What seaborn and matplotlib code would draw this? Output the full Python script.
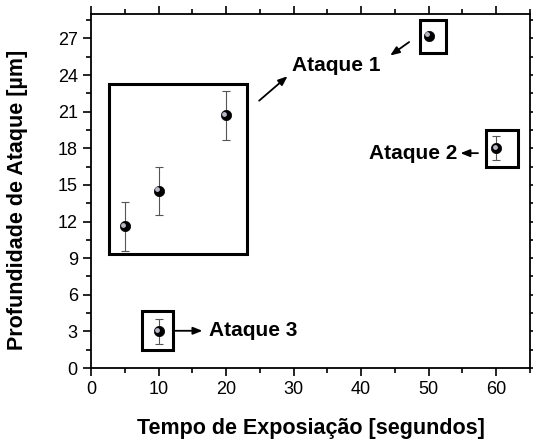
import seaborn as sns
import matplotlib.pyplot as plt
import matplotlib.transforms as mtransforms
from matplotlib.patches import Rectangle
from matplotlib import ticker
import pandas as pd

# data
tempo = [5, 10, 20, 50, 60, 10]
profundidade = [11.6, 14.5, 20.7, 27.2, 18.0, 3.0]
erro = [2.0, 2.0, 2.0, 0.0, 1.0, 1.0]

# boxes around groups: (x0, y0, x1, y1)
caixas = [(2.7, 9.35, 23.1, 23.3), (48.7, 25.8, 52.5, 28.5),
          (58.5, 16.5, 63.2, 19.5), (7.6, 1.5, 12.2, 4.65)]

rotulos = ["Ataque 1", "Ataque 2", "Ataque 3"]

df = pd.DataFrame({"tempo": tempo, "prof": profundidade, "erro": erro})

sns.set_style("ticks")
plt.rcParams['font.family'] = ['Liberation Sans', 'DejaVu Sans']
plt.rcParams['text.color'] = 'black'
plt.rcParams['axes.labelcolor'] = 'black'

fig = plt.figure(figsize=(5.33, 4.41), dpi=100)
ax = fig.add_axes([0.1707, 0.1655, 0.8237, 0.8028])

ax.errorbar(df["tempo"], df["prof"], yerr=df["erro"], fmt="none",
            ecolor="#555555", elinewidth=0.8, capsize=3, capthick=0.8, zorder=2)
sns.scatterplot(data=df, x="tempo", y="prof", ax=ax, color="black", s=55,
                edgecolor="black", linewidth=0.5, zorder=3, legend=False)
# small highlight to mimic the shaded spheres
off = mtransforms.ScaledTranslation(-1.2 / 72, 1.2 / 72, fig.dpi_scale_trans)
ax.scatter(df["tempo"], df["prof"], s=6, color="#b8b8c8", zorder=4,
           transform=ax.transData + off)

for x0, y0, x1, y1 in caixas:
    ax.add_patch(Rectangle((x0, y0), x1 - x0, y1 - y0, fill=False,
                           edgecolor="black", linewidth=2.2, zorder=1))

seta = dict(arrowstyle="-|>,head_length=0.55,head_width=0.22", color="black",
            lw=1.3, shrinkA=0, shrinkB=0)
ax.annotate("", xy=(29.1, 23.9), xytext=(24.9, 21.9), arrowprops=seta)
ax.annotate("", xy=(44.3, 25.6), xytext=(47.1, 26.7), arrowprops=seta)
ax.annotate("", xy=(54.7, 17.6), xytext=(57.3, 17.6), arrowprops=seta)
ax.annotate("", xy=(16.5, 3.05), xytext=(12.5, 3.05), arrowprops=seta)

ax.text(29.7, 24.8, rotulos[0], fontsize=15, fontweight="bold", va="center", ha="left")
ax.text(54.3, 17.6, rotulos[1], fontsize=15, fontweight="bold", va="center", ha="right")
ax.text(17.5, 3.05, rotulos[2], fontsize=15, fontweight="bold", va="center", ha="left")

ax.set_xlim(0, 65)
ax.set_ylim(0, 29)
ax.xaxis.set_major_locator(ticker.MultipleLocator(10))
ax.xaxis.set_minor_locator(ticker.MultipleLocator(5))
ax.yaxis.set_major_locator(ticker.MultipleLocator(3))
ax.yaxis.set_minor_locator(ticker.MultipleLocator(1.5))
ax.tick_params(which="both", direction="out", top=True, right=True,
               labeltop=False, labelright=False, width=1.2, colors="black")
ax.tick_params(which="major", length=6, labelsize=13)
ax.tick_params(which="minor", length=3.5)
for s in ax.spines.values():
    s.set_linewidth(1.3)
    s.set_color("black")

ax.set_xlabel("Tempo de Exposiação [segundos]", fontsize=15.5, fontweight="bold", labelpad=14)
ax.set_ylabel("Profundidade de Ataque [µm]", fontsize=15.5, fontweight="bold")
ax.yaxis.set_label_coords(-0.143, 0.475)

fig.savefig("out.png", dpi=100)
